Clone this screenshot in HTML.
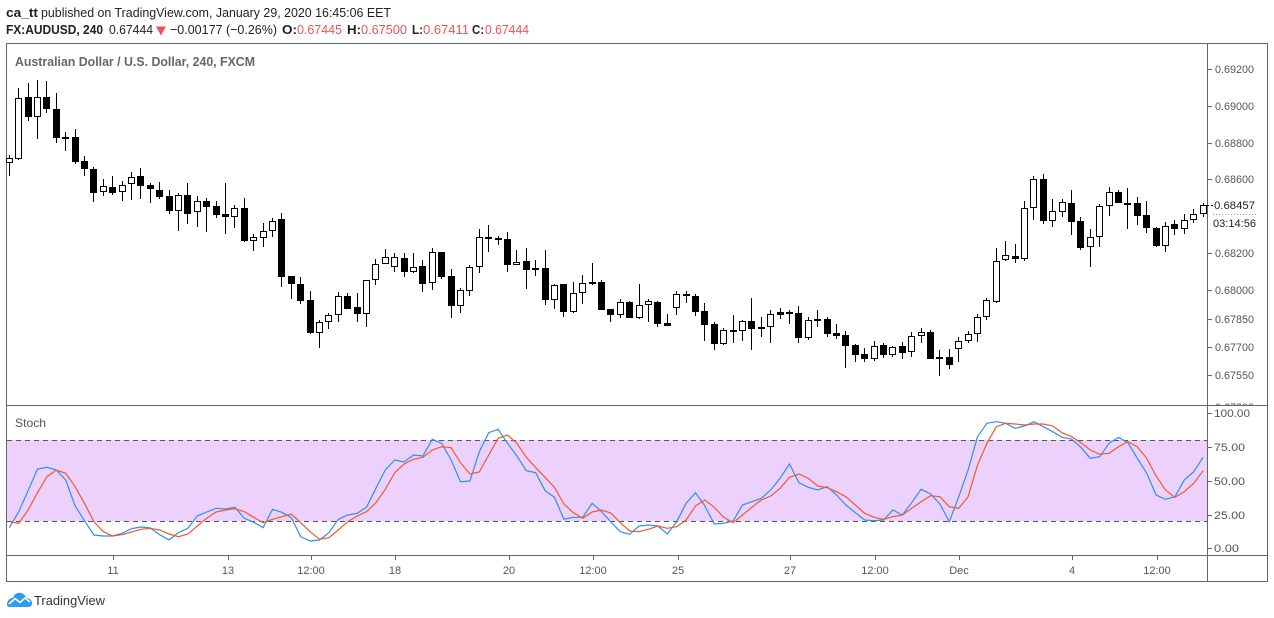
<!DOCTYPE html>
<html><head><meta charset="utf-8"><style>
html,body{margin:0;padding:0;background:#fff;}
svg{display:block;}
text{font-family:"Liberation Sans",sans-serif;}
</style></head><body>
<svg width="1274" height="618" viewBox="0 0 1274 618" xmlns="http://www.w3.org/2000/svg">
<rect width="1274" height="618" fill="#fff"/>
<!-- header -->
<text x="6" y="17" font-size="13" font-weight="bold" fill="#222" textLength="32" lengthAdjust="spacingAndGlyphs">ca_tt</text>
<text x="41" y="17" font-size="13" fill="#222" textLength="350" lengthAdjust="spacingAndGlyphs">published on TradingView.com, January 29, 2020 16:45:06 EET</text>
<text x="6" y="34" font-size="13" font-weight="bold" fill="#222" textLength="97" lengthAdjust="spacingAndGlyphs">FX:AUDUSD, 240</text>
<text x="109" y="34" font-size="13" fill="#222" textLength="44" lengthAdjust="spacingAndGlyphs">0.67444</text>
<path d="M156 26.5h10l-5 9z" fill="#ef5350"/>
<text x="170" y="34" font-size="13" fill="#222" textLength="107" lengthAdjust="spacingAndGlyphs">−0.00177 (−0.26%)</text>
<text x="282" y="34" font-size="13" font-weight="bold" fill="#222" textLength="15" lengthAdjust="spacingAndGlyphs">O:</text>
<text x="297" y="34" font-size="13" fill="#ef5350" textLength="45" lengthAdjust="spacingAndGlyphs">0.67445</text>
<text x="347" y="34" font-size="13" font-weight="bold" fill="#222" textLength="14" lengthAdjust="spacingAndGlyphs">H:</text>
<text x="361" y="34" font-size="13" fill="#ef5350" textLength="46" lengthAdjust="spacingAndGlyphs">0.67500</text>
<text x="412" y="34" font-size="13" font-weight="bold" fill="#222" textLength="11" lengthAdjust="spacingAndGlyphs">L:</text>
<text x="423" y="34" font-size="13" fill="#ef5350" textLength="46" lengthAdjust="spacingAndGlyphs">0.67411</text>
<text x="472" y="34" font-size="13" font-weight="bold" fill="#222" textLength="12" lengthAdjust="spacingAndGlyphs">C:</text>
<text x="485" y="34" font-size="13" fill="#ef5350" textLength="44" lengthAdjust="spacingAndGlyphs">0.67444</text>

<!-- stoch band -->
<rect x="7" y="440" width="1200" height="81" fill="#ebd1fc"/>
<path d="M7 440.5H1207M7 521.5H1207" stroke="#555" stroke-width="1" stroke-dasharray="5,4" fill="none"/>

<!-- frame -->
<rect x="6.5" y="43.5" width="1261" height="538" fill="none" stroke="#666" stroke-width="1"/>
<path d="M1207.5 43V582M6 405.5H1268M6 555.5H1268" stroke="#666" stroke-width="1" fill="none"/>

<!-- title -->
<text x="15" y="66" font-size="13" font-weight="bold" fill="#666" textLength="240" lengthAdjust="spacingAndGlyphs">Australian Dollar / U.S. Dollar, 240, FXCM</text>
<text x="15" y="427" font-size="12" fill="#555" textLength="31" lengthAdjust="spacingAndGlyphs">Stoch</text>

<!-- wicks -->
<path stroke="#000" stroke-width="1" fill="none" d="M9.5 155V176M18.5 88V160M28.5 83V121M37.5 80V139M46.5 81V113M56.5 93V143M65.5 132V151M75.5 129V164M84.5 156V176M93.5 167V202M103.5 179V196M112.5 176V195M122.5 181V201M131.5 172V200M140.5 168V199M150.5 183V203M159.5 182V199M169.5 190V214M178.5 193V231M187.5 183V224M197.5 196V227M206.5 198V232M216.5 201V218M225.5 183V234M234.5 205V228M244.5 198V242M253.5 234V251M263.5 223V247M272.5 218V237M281.5 213V287M291.5 276V299M300.5 277V304M310.5 291V334M319.5 320V348M328.5 313V329M338.5 292V322M347.5 293V309M357.5 293V322M366.5 280V327M375.5 259V285M385.5 249V264M394.5 253V272M404.5 253V277M413.5 253V273M422.5 260V292M432.5 248V290M441.5 252V279M451.5 269V318M460.5 288V313M469.5 265V296M479.5 229V273M488.5 225V252M498.5 236V245M507.5 232V272M516.5 250V265M526.5 248V289M535.5 260V276M545.5 250V305M554.5 284V309M563.5 284V317M573.5 282V313M582.5 275V304M592.5 263V285M601.5 280V310M610.5 309V322M620.5 299V318M629.5 301V318M639.5 284V319M648.5 299V322M657.5 301V327M667.5 314V326M676.5 291V315M686.5 291V303M695.5 294V316M704.5 303V341M714.5 322V350M723.5 328V345M733.5 315V343M742.5 320V341M751.5 298V350M761.5 317V337M770.5 310V343M780.5 308V319M789.5 310V324M798.5 306V343M808.5 317V340M817.5 310V327M827.5 317V337M836.5 324V339M845.5 331V368M855.5 344V362M864.5 348V362M874.5 341V361M883.5 343V358M892.5 346V357M902.5 342V359M911.5 332V357M921.5 328V343M930.5 330V359M939.5 350V376M949.5 349V369M958.5 337V362M968.5 331V343M977.5 314V342M986.5 298V320M996.5 248V303M1005.5 241V261M1015.5 244V263M1024.5 201V261M1033.5 176V220M1043.5 174V224M1052.5 199V227M1062.5 199V217M1071.5 190V235M1080.5 217V250M1090.5 229V267M1099.5 204V247M1109.5 187V216M1118.5 190V203M1127.5 188V229M1137.5 197V225M1146.5 201V233M1156.5 227V247M1165.5 222V252M1174.5 220V235M1184.5 214V234M1193.5 209V223M1203.5 203V217"/>
<!-- filled bodies -->
<path fill="#000" d="M25 97h7v20h-7zM43 97h7v12h-7zM53 109h7v29h-7zM62 137h7v2h-7zM72 137h7v25h-7zM81 161h7v8h-7zM90 169h7v24h-7zM109 187h7v6h-7zM137 176h7v10h-7zM147 185h7v4h-7zM156 190h7v7h-7zM166 196h7v15h-7zM184 195h7v19h-7zM203 201h7v6h-7zM213 206h7v9h-7zM222 214h7v3h-7zM241 208h7v33h-7zM278 219h7v58h-7zM288 276h7v8h-7zM297 284h7v17h-7zM307 300h7v33h-7zM344 296h7v13h-7zM354 307h7v7h-7zM401 258h7v14h-7zM419 266h7v18h-7zM438 252h7v25h-7zM448 276h7v30h-7zM485 237h7v2h-7zM495 238h7v2h-7zM504 239h7v26h-7zM523 261h7v9h-7zM532 268h7v2h-7zM542 268h7v32h-7zM560 284h7v28h-7zM589 282h7v2h-7zM598 282h7v28h-7zM607 309h7v6h-7zM626 302h7v16h-7zM654 302h7v22h-7zM664 323h7v3h-7zM683 294h7v2h-7zM692 296h7v16h-7zM701 311h7v14h-7zM711 324h7v20h-7zM730 330h7v2h-7zM748 321h7v8h-7zM758 327h7v2h-7zM777 312h7v3h-7zM786 312h7v2h-7zM795 313h7v25h-7zM814 319h7v2h-7zM824 319h7v15h-7zM833 333h7v3h-7zM842 335h7v11h-7zM852 345h7v10h-7zM861 354h7v5h-7zM880 345h7v10h-7zM899 346h7v7h-7zM927 332h7v27h-7zM936 357h7v2h-7zM946 357h7v8h-7zM1012 256h7v3h-7zM1040 179h7v42h-7zM1068 203h7v19h-7zM1077 221h7v27h-7zM1115 192h7v11h-7zM1124 203h7v2h-7zM1134 203h7v13h-7zM1143 215h7v13h-7zM1153 228h7v18h-7zM1171 224h7v5h-7z"/>
<!-- hollow bodies -->
<path fill="#fff" stroke="#000" stroke-width="1" d="M6.5 158.5h6v4h-6zM15.5 98.5h6v60h-6zM34.5 97.5h6v19h-6zM100.5 186.5h6v5h-6zM119.5 185.5h6v6h-6zM128.5 177.5h6v6h-6zM175.5 195.5h6v15h-6zM194.5 201.5h6v10h-6zM231.5 208.5h6v8h-6zM250.5 237.5h6v3h-6zM260.5 231.5h6v6h-6zM269.5 221.5h6v9h-6zM316.5 322.5h6v10h-6zM325.5 315.5h6v6h-6zM335.5 296.5h6v18h-6zM363.5 280.5h6v33h-6zM372.5 264.5h6v15h-6zM382.5 257.5h6v6h-6zM391.5 257.5h6v9h-6zM410.5 267.5h6v4h-6zM429.5 252.5h6v30h-6zM457.5 290.5h6v15h-6zM466.5 267.5h6v23h-6zM476.5 237.5h6v29h-6zM513.5 262.5h6v2h-6zM551.5 285.5h6v14h-6zM570.5 293.5h6v18h-6zM579.5 283.5h6v9h-6zM617.5 302.5h6v12h-6zM636.5 305.5h6v12h-6zM645.5 301.5h6v3h-6zM673.5 294.5h6v13h-6zM720.5 330.5h6v13h-6zM739.5 321.5h6v9h-6zM767.5 314.5h6v12h-6zM805.5 320.5h6v17h-6zM871.5 346.5h6v12h-6zM889.5 347.5h6v7h-6zM908.5 336.5h6v15h-6zM918.5 332.5h6v3h-6zM955.5 341.5h6v7h-6zM965.5 334.5h6v6h-6zM974.5 317.5h6v16h-6zM983.5 300.5h6v16h-6zM993.5 261.5h6v40h-6zM1002.5 255.5h6v4h-6zM1021.5 208.5h6v50h-6zM1030.5 179.5h6v28h-6zM1049.5 211.5h6v9h-6zM1059.5 202.5h6v9h-6zM1087.5 237.5h6v9h-6zM1096.5 206.5h6v30h-6zM1106.5 192.5h6v13h-6zM1162.5 226.5h6v19h-6zM1181.5 220.5h6v8h-6zM1190.5 214.5h6v5h-6zM1200.5 205.5h6v8h-6z"/>
<!-- current price dash -->
<path d="M1206 205.5H1213" stroke="#000" stroke-width="1" stroke-dasharray="3,2"/>

<!-- stoch lines -->
<g transform="translate(9.3,0) scale(9.4,1)" fill="none">
<polyline vector-effect="non-scaling-stroke" stroke="#2f8ff2" stroke-width="1.2" points="0,527.7 1,511.7 2,490.7 3,469 4,467.3 5,470 6,480 7,506 8,520.7 9,535 10,536 11,536 12,533.3 13,528.7 14,527 15,528 16,534.7 17,540 18,532.7 19,528.3 20,516 21,512 22,508.3 23,509 24,507.3 25,518.3 26,522.3 27,527.7 28,509.3 29,512.3 30,517.7 31,536.7 32,541 33,540 34,532.7 35,519.3 36,515 37,513.3 38,507.3 39,488.3 40,470 41,460 42,462 43,455 44,456 45,439.3 46,443.3 47,460 48,481.7 49,481 50,451.7 51,432.7 52,429.3 53,443.3 54,456 55,470.7 56,472.7 57,490.7 58,497.3 59,519.3 60,517.3 61,517.3 62,503.3 63,511.5 64,522 65,531.7 66,534.3 67,526 68,525 69,526 70,534 71,521.7 72,503.3 73,492.7 74,506 75,524 76,523.3 77,521 78,505 79,501.7 80,498.3 81,490 82,478.3 83,464 84,482.7 85,487.3 86,490 87,486.7 88,495 89,505 90,512.7 91,520 92,520.7 93,520 94,510 95,515 96,502.7 97,489.3 98,494 99,504 100,521.7 101,496.7 102,470 103,436.7 104,423.3 105,421.7 106,423.3 107,428.3 108,426 109,421.7 110,426.7 111,431.7 112,437.3 113,439 114,447.3 115,458.3 116,456.7 117,443.3 118,437.3 119,442.7 120,458.3 121,473.3 122,495 123,499.3 124,496.7 125,480 126,471.7 127,457.3"/>
<polyline vector-effect="non-scaling-stroke" stroke="#f4592a" stroke-width="1.2" points="0,521.7 1,523.3 2,510 3,492.7 4,476.7 5,470 6,473.3 7,486.7 8,503.3 9,521.7 10,531.7 11,536 12,534.7 13,532 14,529.3 15,528.3 16,530 17,534 18,536.7 19,534 20,526 21,518.3 22,512 23,510 24,508.7 25,511.7 26,517.3 27,522.7 28,519.3 29,516.7 30,514 31,522.7 32,531.7 33,539.3 34,537.7 35,530 36,521.7 37,516 38,511.7 39,502.7 40,489.3 41,472.7 42,464 43,459.3 44,457.3 45,450 46,446.7 47,447.7 48,462.7 49,474 50,472 51,455 52,438.3 53,435 54,443.3 55,457.3 56,467.7 57,477.3 58,487.3 59,504 60,512.7 61,518.3 62,512 63,510 64,513 65,522.7 66,531 67,531.7 68,529.3 69,526 70,528.3 71,526.7 72,520 73,506 74,500 75,507.3 76,517.3 77,522.7 78,515 79,507.3 80,500 81,496 82,488.3 83,477.3 84,474 85,478.3 86,486 87,487.7 88,491.7 89,496.7 90,505 91,513.3 92,517.3 93,519.3 94,516.7 95,515 96,508.3 97,501.7 98,495.7 99,496.7 100,506.7 101,508.3 102,496.7 103,465 104,443.3 105,426.7 106,423.3 107,424 108,425 109,424 110,424 111,426 112,432.7 113,436.7 114,442.7 115,450 116,454.3 117,453.3 118,446.7 119,441.7 120,446.7 121,458.3 122,476 123,490 124,497.3 125,491.7 126,483.3 127,470.7"/>
</g>

<!-- price axis ticks -->
<path stroke="#666" stroke-width="1" d="M1208 69.5h4M1208 106.5h4M1208 143.5h4M1208 179.5h4M1208 253.5h4M1208 290.5h4M1208 319.5h4M1208 347.5h4M1208 375.5h4M1208 413.5h4M1208 447.5h4M1208 481.5h4M1208 515.5h4M1208 548.5h4"/>
<g font-size="11" fill="#555">
<text x="1215" y="73" textLength="39" lengthAdjust="spacingAndGlyphs">0.69200</text>
<text x="1215" y="110" textLength="39" lengthAdjust="spacingAndGlyphs">0.69000</text>
<text x="1215" y="147" textLength="39" lengthAdjust="spacingAndGlyphs">0.68800</text>
<text x="1215" y="183" textLength="39" lengthAdjust="spacingAndGlyphs">0.68600</text>
<text x="1214" y="209" fill="#222" textLength="41" lengthAdjust="spacingAndGlyphs">0.68457</text>
<text x="1213" y="227" fill="#222" textLength="43" lengthAdjust="spacingAndGlyphs">03:14:56</text>
<text x="1215" y="257" textLength="39" lengthAdjust="spacingAndGlyphs">0.68200</text>
<text x="1215" y="294" textLength="39" lengthAdjust="spacingAndGlyphs">0.68000</text>
<text x="1215" y="323" textLength="39" lengthAdjust="spacingAndGlyphs">0.67850</text>
<text x="1215" y="351" textLength="39" lengthAdjust="spacingAndGlyphs">0.67700</text>
<text x="1215" y="379" textLength="39" lengthAdjust="spacingAndGlyphs">0.67550</text>
<text x="1214" y="417" textLength="36" lengthAdjust="spacingAndGlyphs">100.00</text>
<text x="1214" y="451" textLength="31" lengthAdjust="spacingAndGlyphs">75.00</text>
<text x="1214" y="485" textLength="31" lengthAdjust="spacingAndGlyphs">50.00</text>
<text x="1214" y="519" textLength="31" lengthAdjust="spacingAndGlyphs">25.00</text>
<text x="1214" y="552" textLength="25" lengthAdjust="spacingAndGlyphs">0.00</text>
</g>
<clipPath id="cp"><rect x="1208" y="395" width="60" height="10"/></clipPath>
<text x="1215" y="411" font-size="11" fill="#555" clip-path="url(#cp)" textLength="39" lengthAdjust="spacingAndGlyphs">0.67300</text>
<path d="M1213 214.5H1258" stroke="#999" stroke-width="1" stroke-dasharray="1,2"/>

<!-- time axis -->
<path stroke="#666" stroke-width="1" d="M113.5 556v4M228.5 556v4M311.5 556v4M395.5 556v4M509.5 556v4M593.5 556v4M678.5 556v4M790.5 556v4M875.5 556v4M959.5 556v4M1072.5 556v4M1157.5 556v4"/>
<g font-size="11" fill="#555" text-anchor="middle">
<text x="113" y="574">11</text>
<text x="228" y="574">13</text>
<text x="311" y="574">12:00</text>
<text x="395" y="574">18</text>
<text x="509" y="574">20</text>
<text x="593" y="574">12:00</text>
<text x="678" y="574">25</text>
<text x="790" y="574">27</text>
<text x="875" y="574">12:00</text>
<text x="959" y="574">Dec</text>
<text x="1072" y="574">4</text>
<text x="1157" y="574">12:00</text>
</g>

<!-- logo -->
<path d="M7 605 C7 600 10 598 13 598 C14 594 18 592 21 593 C24 594 26 596 26 598 C30 598 32 601 32 603 C32 606 30 607 28 607 L10 607 C8 607 7 606 7 605 Z" fill="#2e9cf0"/>
<path d="M9 604 L15 598.5 L20 602.5 L25 598 L30 602" stroke="#fff" stroke-width="1.6" fill="none"/>
<text x="34" y="605" font-size="13" fill="#333" textLength="71" lengthAdjust="spacingAndGlyphs">TradingView</text>
</svg>
</body></html>
